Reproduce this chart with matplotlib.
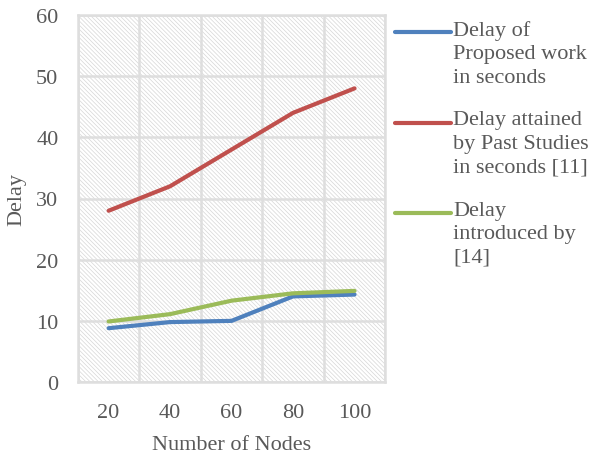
import numpy as np
import matplotlib
matplotlib.use('Agg')
from matplotlib import pyplot as plt
from matplotlib.lines import Line2D

nodes = ['20', '40', '60', '80', '100']
proposed = [8.8, 9.8, 10.0, 14.0, 14.3]
past = [28, 32, 38, 44, 48]
ref14 = [9.9, 11.1, 13.3, 14.5, 14.9]

series_names = ['Delay of\nProposed work\nin seconds',
                'Delay attained\nby Past Studies\nin seconds [11]',
                'Delay\nintroduced by\n[14]']
colors = ['#4F81BD', '#C0504D', '#9BBB59']

plt.rcParams['font.family'] = ['Liberation Serif', 'DejaVu Serif']
plt.rcParams['hatch.linewidth'] = 0.5
text_col = '#595959'
grid_col = '#dedede'

fig = plt.figure(figsize=(5.9, 4.56), dpi=100)
ax = fig.add_axes([0.132, 0.160, 0.521, 0.805])

# hatched plot area
ax.patch.set_facecolor('white')
ax.patch.set_hatch('\\' * 8)
ax.patch.set_edgecolor('#d6d6d6')

x = np.arange(len(nodes))
for vals, c in zip([proposed, past, ref14], colors):
    ax.plot(x, vals, color=c, lw=3, solid_capstyle='round', solid_joinstyle='round', zorder=3)

ax.set_xlim(-0.5, len(nodes) - 0.5)
ax.set_ylim(0, 60)
ax.set_yticks(range(0, 61, 10))
ax.set_xticks(x)
ax.set_xticklabels(nodes)
ax.set_xticks(np.arange(-0.5, len(nodes), 0.5), minor=True)
ax.grid(True, which='minor', axis='x', color=grid_col, lw=1.8, zorder=1)
ax.grid(True, which='major', axis='y', color=grid_col, lw=1.8, zorder=1)
ax.set_axisbelow(True)
ax.tick_params(which='both', length=0, labelsize=16, colors=text_col)
ax.tick_params(axis='y', pad=14)
ax.tick_params(axis='x', pad=15)
for s in ax.spines.values():
    s.set_color(grid_col)
    s.set_linewidth(1.8)

ax.set_xlabel('Number of Nodes', fontsize=16, color=text_col)
ax.set_ylabel('Delay', fontsize=16, color=text_col)
ax.xaxis.set_label_coords(0.5, -0.169)
ax.yaxis.set_label_coords(-0.199, 0.5)
ax.xaxis.label.set_va('center')
ax.yaxis.label.set_va('center')

# legend drawn by hand so the line sits on the first text line
W, H = 590.0, 456.0
for i, (name, c) in enumerate(zip(series_names, colors)):
    yy = 33 + i * 90.5
    fig.add_artist(Line2D([395 / W, 451 / W], [1 - yy / H, 1 - yy / H], color=c, lw=3,
                          solid_capstyle='round'))
    fig.text(453 / W, 1 - (yy - 12) / H, name, fontsize=16, color=text_col,
             va='top', ha='left', linespacing=1.32)

plt.savefig('out.png', dpi=100)
